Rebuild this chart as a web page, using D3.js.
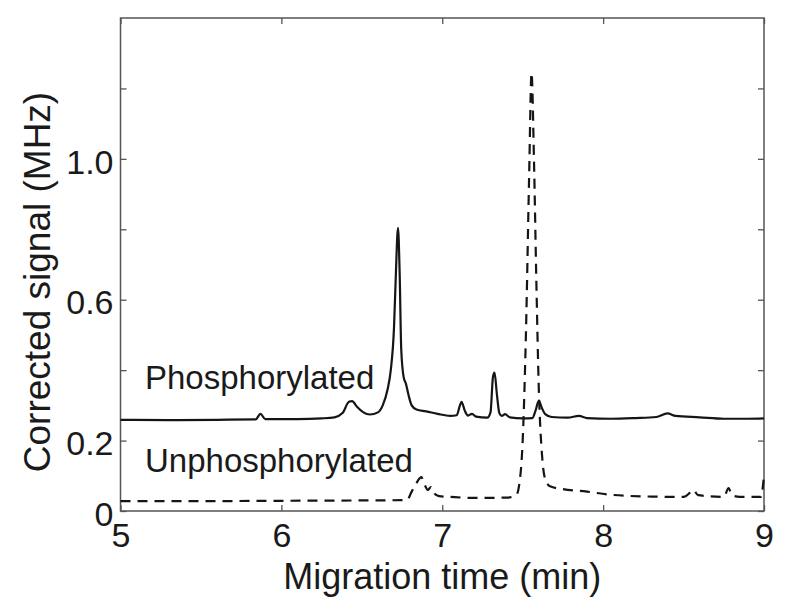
<!DOCTYPE html>
<html>
<head>
<meta charset="utf-8">
<script src="https://cdn.jsdelivr.net/npm/d3@7"></script>
<style>
  body { margin: 0; background: #fff; }
  svg { display: block; font-family: "Liberation Sans", Arial, sans-serif; }
</style>
</head>
<body>
<div id="chart"></div>
<script>
// Phosphorylated trace (solid)
const timePhos = [5.00, 5.30, 5.60, 5.84, 5.87, 5.90, 6.10, 6.25, 6.33, 6.38, 6.42, 6.44, 6.47, 6.51, 6.55, 6.60, 6.63, 6.66, 6.68, 6.70, 6.71, 6.725, 6.735, 6.745, 6.76, 6.775, 6.79, 6.81, 6.84, 6.90, 6.97, 7.05, 7.09, 7.11, 7.12, 7.14, 7.16, 7.185, 7.21, 7.28, 7.30, 7.315, 7.325, 7.34, 7.355, 7.37, 7.39, 7.42, 7.50, 7.56, 7.58, 7.60, 7.62, 7.64, 7.68, 7.78, 7.85, 7.90, 8.05, 8.20, 8.33, 8.40, 8.45, 8.60, 8.75, 8.90, 9.00];
const signalPhos = [0.259, 0.258, 0.259, 0.260, 0.276, 0.261, 0.261, 0.263, 0.266, 0.278, 0.310, 0.312, 0.296, 0.280, 0.274, 0.280, 0.300, 0.345, 0.400, 0.520, 0.650, 0.804, 0.680, 0.460, 0.380, 0.360, 0.330, 0.300, 0.288, 0.283, 0.276, 0.270, 0.272, 0.300, 0.310, 0.285, 0.271, 0.276, 0.268, 0.265, 0.280, 0.380, 0.393, 0.330, 0.278, 0.270, 0.275, 0.266, 0.263, 0.264, 0.285, 0.313, 0.292, 0.275, 0.267, 0.265, 0.270, 0.264, 0.262, 0.264, 0.267, 0.277, 0.270, 0.266, 0.262, 0.262, 0.263];

// Unphosphorylated trace (dashed)
const timeUnphos = [5.00, 5.50, 6.00, 6.50, 6.78, 6.81, 6.84, 6.87, 6.89, 6.91, 6.93, 6.95, 6.98, 7.05, 7.20, 7.40, 7.46, 7.48, 7.50, 7.52, 7.54, 7.555, 7.57, 7.585, 7.60, 7.62, 7.64, 7.67, 7.75, 7.90, 8.05, 8.30, 8.50, 8.54, 8.56, 8.59, 8.75, 8.78, 8.80, 8.85, 8.98, 9.00];
const signalUnphos = [0.028, 0.028, 0.029, 0.030, 0.031, 0.055, 0.080, 0.096, 0.075, 0.060, 0.068, 0.050, 0.042, 0.040, 0.037, 0.038, 0.045, 0.080, 0.200, 0.500, 0.950, 1.244, 1.000, 0.650, 0.350, 0.160, 0.090, 0.070, 0.062, 0.055, 0.046, 0.041, 0.040, 0.052, 0.060, 0.045, 0.040, 0.065, 0.045, 0.040, 0.040, 0.100];

const xTicks = [5, 6, 7, 8, 9];
const yTicks = [0, 0.2, 0.4, 0.6, 0.8, 1.0, 1.2];
const yTickLabels = ["0", "0.2", "", "0.6", "", "1.0", ""];

const W = 800, H = 602;
const margin = { top: 18, right: 36, bottom: 91, left: 120.5 };
const width = W - margin.left - margin.right;
const height = H - margin.top - margin.bottom;

const svg = d3.select("#chart").append("svg")
    .attr("width", W)
    .attr("height", H);

const g = svg.append("g")
    .attr("transform", `translate(${margin.left},${margin.top})`);

const x = d3.scaleLinear().domain([5, 9]).range([0, width]);
const y = d3.scaleLinear().domain([0, 1.4]).range([height, 0]);

const axisColor = "#555";
const tickLen = 6;

function styleAxis(sel) {
    sel.select(".domain").remove();
    sel.selectAll(".tick line").attr("stroke", axisColor).attr("stroke-width", 1.3);
    sel.selectAll(".tick text")
        .attr("fill", "#1a1a1a")
        .style("font-size", "34px");
}

// bottom axis with labels, ticks pointing inward
g.append("g")
    .attr("transform", `translate(0,${height})`)
    .call(d3.axisBottom(x).tickValues(xTicks).tickFormat(d3.format("d"))
        .tickSizeInner(-tickLen).tickSizeOuter(0).tickPadding(12))
    .call(styleAxis)
    .selectAll(".tick text").attr("dy", "0.71em").attr("y", 12);

// top axis, ticks only
g.append("g")
    .call(d3.axisTop(x).tickValues(xTicks).tickFormat("")
        .tickSizeInner(-tickLen).tickSizeOuter(0))
    .call(styleAxis);

// left axis with selective labels
g.append("g")
    .call(d3.axisLeft(y).tickValues(yTicks).tickFormat((d, i) => yTickLabels[i])
        .tickSizeInner(-tickLen).tickSizeOuter(0).tickPadding(7))
    .call(styleAxis)
    .selectAll(".tick text").attr("dy", "0.42em");

// right axis, ticks only
g.append("g")
    .attr("transform", `translate(${width},0)`)
    .call(d3.axisRight(y).tickValues(yTicks).tickFormat("")
        .tickSizeInner(-tickLen).tickSizeOuter(0))
    .call(styleAxis);

// frame
g.append("rect")
    .attr("width", width)
    .attr("height", height)
    .attr("fill", "none")
    .attr("stroke", axisColor)
    .attr("stroke-width", 1.5);

const line = d3.line()
    .x(d => x(d[0]))
    .y(d => y(d[1]))
    .curve(d3.curveMonotoneX);

g.append("path")
    .datum(d3.zip(timePhos, signalPhos))
    .attr("fill", "none")
    .attr("stroke", "#151515")
    .attr("stroke-width", 2.2)
    .attr("stroke-linejoin", "round")
    .attr("d", line);

g.append("path")
    .datum(d3.zip(timeUnphos, signalUnphos))
    .attr("fill", "none")
    .attr("stroke", "#151515")
    .attr("stroke-width", 2.2)
    .attr("stroke-dasharray", "10,7")
    .attr("d", line);

// trace labels
g.append("text")
    .attr("x", 24.5)
    .attr("y", 371)
    .attr("fill", "#1a1a1a")
    .style("font-size", "33px")
    .text("Phosphorylated");

g.append("text")
    .attr("x", 24.5)
    .attr("y", 454)
    .attr("fill", "#1a1a1a")
    .style("font-size", "33px")
    .text("Unphosphorylated");

// axis titles
svg.append("text")
    .attr("x", margin.left + width / 2)
    .attr("y", 589)
    .attr("text-anchor", "middle")
    .attr("fill", "#1a1a1a")
    .style("font-size", "36px")
    .text("Migration time (min)");

svg.append("text")
    .attr("transform", "translate(50,282) rotate(-90)")
    .attr("text-anchor", "middle")
    .attr("fill", "#1a1a1a")
    .style("font-size", "37px")
    .text("Corrected signal (MHz)");
</script>
</body>
</html>
